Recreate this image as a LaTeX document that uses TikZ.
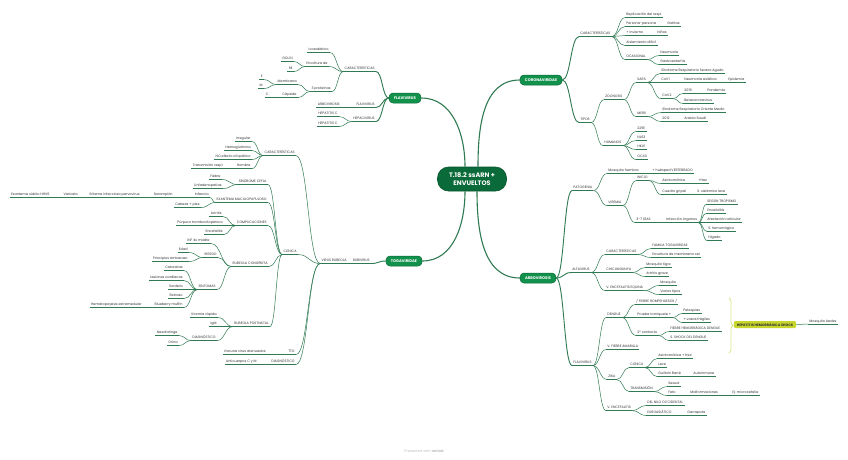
\documentclass[tikz,border=0pt]{standalone}
\usepackage{fontspec}
\setmainfont{Poppins}
\usetikzlibrary{calc,decorations.pathreplacing}
\definecolor{lg}{HTML}{2F7A52}
\definecolor{cg}{HTML}{0A6A39}
\definecolor{mg}{HTML}{12914C}
\definecolor{yg}{HTML}{C6D62C}
\definecolor{yb}{HTML}{DCE58C}
\definecolor{tx}{HTML}{333333}
\tikzset{
  ln/.style={draw=lg, line width=0.5pt},
  lnb/.style={draw=lg, line width=0.9pt},
  cv/.style={to path={let \p1=(\tikztostart), \p2=(\tikztotarget) in .. controls ($(\x1,\y1)!0.5!(\x2,\y1)$) and ($(\x1,\y2)!0.5!(\x2,\y2)$) .. (\tikztotarget)}},
  tb/.style={font=\fontsize{3.4}{4}\selectfont, text=tx, inner xsep=1.2pt, inner ysep=0.6pt, text height=2.5pt, text depth=1pt, append after command={(\tikzlastnode.south west) edge[ln] (\tikzlastnode.south east)}},
  rt/.style={tb, anchor=west},
  lt/.style={tb, anchor=east},
  mbox/.style={fill=mg, draw=cg, line width=0.5pt, rounded corners=4pt, text=white, font=\fontsize{3.8}{4.5}\selectfont\bfseries, inner xsep=5pt, minimum height=10pt, inner ysep=0pt},
  cbox/.style={fill=cg, draw=cg!80!black, line width=0.6pt, rounded corners=11pt, text=white, font=\fontsize{6.5}{8}\selectfont\bfseries, align=center, minimum width=69pt, minimum height=24pt},
  sbox/.style={fill=yg, rounded corners=2pt, text=tx, font=\fontsize{3.4}{4}\selectfont\bfseries, inner xsep=3pt, minimum height=7pt, inner ysep=0pt},
}
\begin{document}
\begin{tikzpicture}[x=1pt,y=-1pt]
\fill[white] (0,0) rectangle (848,459);
\useasboundingbox (0,0) rectangle (848,459);
% central and main
\node[cbox] (CEN) at (472,179) {T.18.2 ssARN +\\ENVUELTOS};
\node[mbox] (FLA) at (405,98) {FLAVIVIRUS};
\node[mbox] (TOG) at (404,261) {TOGAVIRIDAE};
\node[mbox] (COR) at (541,80) {CORONAVIRIDAE};
\node[mbox] (ARB) at (538,278) {ARBOVIROSIS};
% FLAVIVIRUS (left)
\node[lt] (fcar) at (376,69) {CARACTERÍSTICAS};
\node[lt] (fico) at (330,50) {Icosaédrico};
\node[lt] (fenv) at (329,64) {Envoltura de};
\node[lt] (fgol) at (294,59) {GOLGI};
\node[lt] (fre) at (294,69) {RE};
\node[lt] (f3p) at (332,89) {3 proteínas};
\node[lt] (fmem) at (298,82) {Membrana};
\node[lt] (fe) at (264,77) {E};
\node[lt] (fm) at (264,86) {M};
\node[lt] (fcap) at (298,95) {Cápside};
\node[lt] (fc) at (270,95) {C};
\node[lt] (fflv) at (376,105) {FLAVIVIRUS};
\node[lt] (farb) at (341,105) {ARBOVIROSIS};
\node[lt] (fhep) at (376,119) {HEPACIVIRUS};
\node[lt] (fhc1) at (339,114) {HEPATITIS C};
\node[lt] (fhc2) at (339,124) {HEPATITIS C};
% TOGAVIRIDAE (left)
\node[lt] (trub) at (371,261) {RUBIVIRUS};
\node[lt] (tvr) at (348,261) {VIRUS RUBEOLA};
\node[lt] (tcar) at (296,153) {CARACTERÍSTICAS};
\node[lt] (tirr) at (252,139) {Irregular};
\node[lt] (themag) at (252,148) {Hemaglutinina};
\node[lt] (tno) at (252,157) {NO efecto citopático};
\node[lt] (thom) at (252,166) {Hombre};
\node[lt] (ttra) at (224,166) {Transmisión respi};
\node[lt] (tcli) at (298,252) {CLÍNICA};
\node[lt] (tsin) at (268,182) {SÍNDROME CEFAL};
\node[lt] (tfie) at (222,177) {Fiebre};
\node[lt] (tlin) at (223,186) {Linfadenopatías};
\node[lt] (texa) at (268,200) {EXANTEMA MACULOPAPULOSO};
\node[lt] (tinf) at (210,195) {Infancia};
\node[lt] (tsar) at (174,195) {Sarampión};
\node[lt] (teri) at (141,195) {Eritema infeccioso parvovirus};
\node[lt] (tvar) at (79,195) {Varicela};
\node[lt] (texs) at (51,195) {Exantema súbito HHV6};
\node[lt] (tcab) at (201,205) {Cabeza + pies};
\node[lt] (tcom) at (268,223) {COMPLICACIONES};
\node[lt] (tart) at (223,214) {Artritis};
\node[lt] (tpur) at (224,223) {Púrpura trombocitopénica};
\node[lt] (tenc) at (224,232) {Encefalitis};
\node[lt] (tcon) at (269,264) {RUBEOLA CONGÉNITA};
\node[lt] (tinf4) at (211,241) {INF 4s madre};
\node[lt] (trie) at (218,255) {RIESGO};
\node[lt] (teda) at (189,250) {Edad};
\node[lt] (tpri) at (189,259) {Principios embarazo};
\node[lt] (tsnt) at (217,287) {SÍNTOMAS};
\node[lt] (tcat) at (184,268) {Cataratas};
\node[lt] (tles) at (184,278) {Lesiones cardíacas};
\node[lt] (tsor) at (184,287) {Sordera};
\node[lt] (tret) at (184,296) {Retraso};
\node[lt] (tblu) at (184,305) {Blueberry muffin};
\node[lt] (thema) at (143,305) {Hematopoyesis extramedular};
\node[lt] (tpos) at (270,324) {RUBEOLA POSTNATAL};
\node[lt] (tvir) at (218,315) {Viremia rápida};
\node[lt] (tigm) at (218,324) {IgM};
\node[lt] (tdia) at (217,338) {DIAGNÓSTICO};
\node[lt] (tnas) at (179,333) {Nasofaringe};
\node[lt] (tori) at (179,343) {Orina};
\node[lt] (ttto) at (296,352) {TTO};
\node[lt] (tvac) at (267,352) {Vacuna virus atenuados};
\node[lt] (tdg) at (296,362) {DIAGNÓSTICO};
\node[lt] (tant) at (258,362) {Anticuerpos C y M};
% CORONAVIRIDAE (right)
\node[rt] (ccar) at (579,34) {CARACTERÍSTICAS};
\node[rt] (crep) at (625,15) {Replicación del respi};
\node[rt] (cper) at (625,24) {Persona-persona};
\node[rt] (cgot) at (666,24) {Gotitas};
\node[rt] (cinv) at (625,33) {+ invierno};
\node[rt] (cnin) at (656,33) {Niños};
\node[rt] (cais) at (625,43) {Aislamiento difícil};
\node[rt] (coca) at (625,57) {OCASIONAL};
\node[rt] (cneu) at (659,53) {Neumonía};
\node[rt] (cgas) at (659,62) {Gastroenteritis};
\node[rt] (ctip) at (579,120) {TIPOS};
\node[rt] (czoo) at (604,97) {ZOONOSIS};
\node[rt] (csars) at (636,80) {SARS};
\node[rt] (csra) at (660,71) {Síndrome Respiratorio Severo Agudo};
\node[rt] (ccov1) at (660,80) {CoV1};
\node[rt] (cneua) at (683,80) {Neumonía asiática};
\node[rt] (cepi) at (727,80) {Epidemia};
\node[rt] (ccov2) at (661,96) {CoV2};
\node[rt] (c2019) at (683,91) {2019};
\node[rt] (cpan) at (706,91) {Pandemia};
\node[rt] (cbeta) at (683,101) {Betacoronavirus};
\node[rt] (cmers) at (636,114) {MERS};
\node[rt] (csro) at (661,110) {Síndrome Respiratorio Oriente Medio};
\node[rt] (c2012) at (661,119) {2012};
\node[rt] (cara) at (683,119) {Arabia Saudí};
\node[rt] (chum) at (603,143) {HUMANOS};
\node[rt] (c229) at (636,129) {229E};
\node[rt] (cnl) at (636,138) {NL63};
\node[rt] (chku) at (636,147) {HKU1};
\node[rt] (coc) at (636,157) {OC43};
% ARBOVIROSIS (right)
\node[rt] (apat) at (572,188) {PATOGENIA};
\node[rt] (amos) at (607,171) {Mosquito hembra};
\node[rt] (ahue) at (651,171) {+ huésped VERTEBRADO};
\node[rt] (avir) at (607,203) {VIREMIA};
\node[rt] (aini) at (636,178) {INICIO};
\node[rt] (aasi) at (661,181) {Asintomática};
\node[rt] (afre) at (697,181) {+frec};
\node[rt] (acua) at (661,192) {Cuadro gripal};
\node[rt] (asis) at (696,192) {S. sistémico leve};
\node[rt] (a37) at (635,220) {3-7 DÍAS};
\node[rt] (ainf) at (665,220) {Infección órganos};
\node[rt] (aseg) at (706,202) {SEGÚN TROPISMO};
\node[rt] (aenc) at (706,211) {Encefalitis};
\node[rt] (aafe) at (706,220) {Afectación articular};
\node[rt] (ashe) at (707,229) {S. hemorrágico};
\node[rt] (ahig) at (707,238) {Hígado};
\node[rt] (aalf) at (571,270) {ALFAVIRUS};
\node[rt] (acar) at (605,252) {CARACTERÍSTICAS};
\node[rt] (afam) at (651,246) {FAMILIA TOGAVIRIDAE};
\node[rt] (aenv) at (651,255) {Envoltura de membrana cel};
\node[rt] (achi) at (605,270) {CHICUNGUNYA};
\node[rt] (amti) at (645,265) {Mosquito tigre};
\node[rt] (aart) at (645,274) {Artritis grave};
\node[rt] (aveq) at (605,288) {V. ENCEFALITIS EQUINA};
\node[rt] (amsq) at (659,283) {Mosquito};
\node[rt] (avar) at (659,292) {Varios tipos};
\node[rt] (afla) at (572,363) {FLAVIVIRUS};
\node[rt] (aden) at (606,315) {DENGUE};
\node[rt] (afr) at (635,302) {/ FIEBRE ROMPEHUESOS /};
\node[rt] (apru) at (636,315) {Prueba torniquete +};
\node[rt] (apet) at (682,311) {Petequias};
\node[rt] (avas) at (682,320) {+ vasos frágiles};
\node[rt] (a2c) at (636,333) {2º contacto};
\node[rt] (afhd) at (669,329) {FIEBRE HEMORRÁGICA DENGUE};
\node[rt] (assd) at (669,338) {S. SHOCK DEL DENGUE};
\node[rt] (afam2) at (606,347) {V. FIEBRE AMARILLA};
\node[rt] (azik) at (607,377) {ZIKA};
\node[rt] (acli) at (629,365) {CLÍNICA};
\node[rt] (aasf) at (657,356) {Asintomática + frec};
\node[rt] (alev) at (657,365) {Leve};
\node[rt] (agui) at (657,374) {Guillain Barré};
\node[rt] (aaut) at (692,374) {Autoinmune};
\node[rt] (atra) at (629,389) {TRANSMISIÓN};
\node[rt] (asex) at (667,384) {Sexual};
\node[rt] (afet) at (667,393) {Feto};
\node[rt] (amal) at (689,393) {Malformaciones};
\node[rt] (aej) at (731,393) {Ej: microcefalia};
\node[rt] (aven) at (606,408) {V. ENCEFALITIS};
\node[rt] (anil) at (646,403) {DEL NILO OCCIDENTAL};
\node[rt] (aeur) at (646,413) {EUROASIÁTICO};
\node[rt] (agar) at (686,413) {Garrapata};
% summary
\coordinate (bt) at (729,298);
\coordinate (bb) at (729,353);
\draw[yb, line width=0.8pt, decorate, decoration={brace, amplitude=4pt}] (bt) -- (bb);
\node[sbox] (sum) at (765,324.5) {HEPATITIS HEMORRÁGICA SHOCK};
\node[rt] (maed) at (808,321.5) {Mosquito Aedes};
\draw[ln] (sum.east) -- (maed.south west);
% central connectors
\draw[lnb, line width=1.1pt] ([xshift=-7pt]CEN.north) to[out=90,in=0] (FLA.east);
\draw[lnb, line width=1.1pt] ([xshift=6pt]CEN.north) to[out=90,in=180] (COR.west);
\draw[lnb, line width=1.1pt] ([xshift=-7pt]CEN.south) to[out=-90,in=0] (TOG.east);
\draw[lnb, line width=1.1pt] ([xshift=5pt]CEN.south) to[out=-90,in=180] (ARB.west);
% main box connectors
\foreach \b in {fcar,fflv,fhep} \draw[lnb] (FLA.west) to[cv] (\b.south east);
\draw[lnb] (TOG.west) to[cv] (trub.south east);
\foreach \b in {ccar,ctip} \draw[lnb] (COR.east) to[cv] (\b.south west);
\foreach \b in {apat,aalf,afla} \draw[lnb] (ARB.east) to[cv] (\b.south west);
% left connectors
\foreach \a/\b in {fcar/fico, fcar/fenv, fcar/f3p, fenv/fgol, fenv/fre, f3p/fmem, f3p/fcap, fmem/fe, fmem/fm, fcap/fc, fflv/farb, fhep/fhc1, fhep/fhc2,
 trub/tvr, tvr/tcar, tvr/tcli, tvr/ttto, tvr/tdg, tcar/tirr, tcar/themag, tcar/tno, tcar/thom, thom/ttra, tcli/tsin, tcli/texa, tcli/tcom, tcli/tcon, tcli/tpos,
 tsin/tfie, tsin/tlin, texa/tinf, texa/tcab, tinf/tsar, tsar/teri, teri/tvar, tvar/texs, tcom/tart, tcom/tpur, tcom/tenc, tcon/tinf4, tcon/trie, tcon/tsnt,
 trie/teda, trie/tpri, tsnt/tcat, tsnt/tles, tsnt/tsor, tsnt/tret, tsnt/tblu, tblu/thema, tpos/tvir, tpos/tigm, tpos/tdia, tdia/tnas, tdia/tori, ttto/tvac, tdg/tant}
 \draw[ln] (\a.south west) to[cv] (\b.south east);
% right connectors
\foreach \a/\b in {ccar/crep, ccar/cper, ccar/cinv, ccar/cais, ccar/coca, cper/cgot, cinv/cnin, coca/cneu, coca/cgas, ctip/czoo, ctip/chum, czoo/csars, czoo/cmers,
 csars/csra, csars/ccov1, csars/ccov2, ccov1/cneua, cneua/cepi, ccov2/c2019, c2019/cpan, ccov2/cbeta, cmers/csro, cmers/c2012, c2012/cara,
 chum/c229, chum/cnl, chum/chku, chum/coc,
 apat/amos, amos/ahue, apat/avir, avir/aini, avir/a37, aini/aasi, aasi/afre, aini/acua, acua/asis, a37/ainf, ainf/aseg, ainf/aenc, ainf/aafe, ainf/ashe, ainf/ahig,
 aalf/acar, aalf/achi, aalf/aveq, acar/afam, acar/aenv, achi/amti, achi/aart, aveq/amsq, aveq/avar,
 afla/aden, afla/afam2, afla/azik, afla/aven, aden/afr, aden/apru, aden/a2c, apru/apet, apru/avas, a2c/afhd, a2c/assd,
 azik/acli, azik/atra, acli/aasf, acli/alev, acli/agui, agui/aaut, atra/asex, atra/afet, afet/amal, amal/aej, aven/anil, aven/aeur, aeur/agar}
 \draw[ln] (\a.south east) to[cv] (\b.south west);
% footer
\node[font=\fontsize{3.6}{4}\selectfont, text=black!25] (foot) at (424,451) {Presented with \textbf{xmind}};
\end{tikzpicture}
\end{document}
